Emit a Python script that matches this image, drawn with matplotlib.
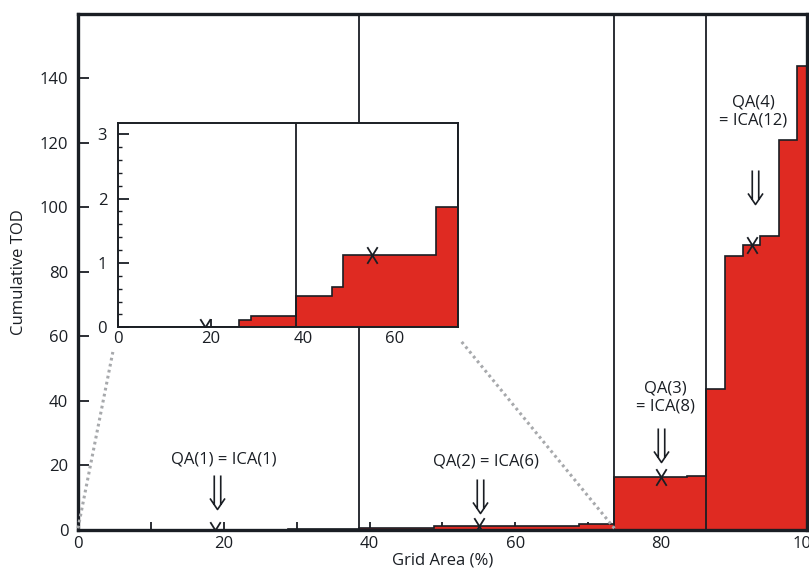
import numpy as np
import matplotlib.pyplot as plt
from matplotlib.path import Path
from matplotlib.patches import ConnectionPatch

plt.rcParams['font.family'] = ['Open Sans', 'DejaVu Sans']
plt.rcParams['font.size'] = 12

# step edges (% of grid area) and cumulative TOD on each step
area_edges = [0, 26.2, 28.8, 38.6, 46.3, 48.8, 68.8, 73.6, 83.5, 86.1,
              88.7, 91.2, 93.6, 96.2, 98.6, 100]
cum_tod = [0, 0.12, 0.17, 0.49, 0.62, 1.12, 1.87, 16.5, 16.8, 43.7,
           84.8, 88.5, 91.3, 121, 144]

# quartile-area boundaries
qa_bounds = [38.5, 73.6, 86.1]

# quartile points
qa_x = [18.8, 55.0, 80.0, 92.5]
qa_y = [0.0, 1.12, 16.5, 88.5]
qa_labels = ["QA(1) = ICA(1)", "QA(2) = ICA(6)", "QA(3)\n= ICA(8)", "QA(4)\n= ICA(12)"]

RED = '#df2a22'
INK = '#1a1e24'


def double_arrow():
    s, w, h = 0.19, 0.44, 0.65
    yj = -1 + h * s / w
    verts = [(-s, 1), (-s, yj), (s, 1), (s, yj), (-w, -1 + h), (0, -1), (w, -1 + h)]
    codes = [Path.MOVETO, Path.LINETO, Path.MOVETO, Path.LINETO,
             Path.MOVETO, Path.LINETO, Path.LINETO]
    return Path(verts, codes)


def cross():
    a = 0.62
    verts = [(-a, 1), (a, -1), (-a, -1), (a, 1)]
    codes = [Path.MOVETO, Path.LINETO, Path.MOVETO, Path.LINETO]
    return Path(verts, codes)


def draw_steps(ax):
    ax.stairs(cum_tod, area_edges, fill=True, facecolor=RED, edgecolor=INK,
              linewidth=1.2, zorder=2)
    for xb in qa_bounds:
        ax.axvline(xb, color=INK, linewidth=1.3, zorder=3)


fig = plt.figure(figsize=(8.09, 5.75), dpi=100)
ax = fig.add_axes([0.0964, 0.0783, 0.901, 0.8974])

draw_steps(ax)
ax.plot(qa_x, qa_y, linestyle='none', marker=cross(), ms=12, mfc='none',
        mec=INK, mew=1.3, zorder=5)

# annotation layout: (text x, text y, arrow x, arrow centre y)
ann_pos = [(20.0, 21.7, 19.1, 11.9), (56.0, 21.2, 55.2, 10.5),
           (80.6, 41.0, 80.0, 26.3), (92.6, 129.8, 92.9, 106.3)]
for lab, (tx, ty, axx, ay) in zip(qa_labels, ann_pos):
    ax.text(tx, ty, lab, ha='center', va='center', ma='center',
            linespacing=1.2, color=INK, zorder=6)
    ax.plot([axx], [ay], marker=double_arrow(), ms=24.5, mfc='none',
            mec=INK, mew=1.2, zorder=6)

ax.set_xlim(0, 100)
ax.set_ylim(0, 160)
ax.set_xticks(np.arange(0, 101, 20))
ax.set_xticks(np.arange(10, 100, 20), minor=True)
ax.set_yticks(np.arange(0, 141, 20))
ax.tick_params(axis='x', which='both', direction='in', length=6, width=1.3,
               color=INK, pad=4, labelcolor=INK)
ax.tick_params(axis='y', direction='in', length=8, width=1.3, color=INK,
               pad=7, labelcolor=INK)
for sp in ax.spines.values():
    sp.set_linewidth(2.4)
    sp.set_color(INK)
ax.set_xlabel('Grid Area (%)', labelpad=1, color=INK)
ax.set_ylabel('Cumulative TOD', labelpad=9, color=INK)

# zoomed inset of the low-TOD part
axin = fig.add_axes([0.1462, 0.4308, 0.4196, 0.3548])
axin.set_facecolor('white')
draw_steps(axin)
axin.plot(qa_x[:2], qa_y[:2], linestyle='none', marker=cross(), ms=12,
          mfc='none', mec=INK, mew=1.3, zorder=5)
axin.set_xlim(0, 73.6)
axin.set_ylim(0, 3.17)
axin.set_xticks([0, 20, 40, 60])
axin.set_yticks([0, 1, 2, 3])
axin.set_yticks(np.arange(0, 3.1, 0.2), minor=True)
axin.tick_params(axis='x', direction='in', length=6, width=1.3, color=INK,
                 pad=3, labelcolor=INK)
axin.tick_params(axis='y', which='major', direction='in', length=8, width=1.3,
                 color=INK, pad=8, labelcolor=INK)
axin.tick_params(axis='y', which='minor', direction='in', length=3, width=1.0,
                 color=INK)
for sp in axin.spines.values():
    sp.set_linewidth(1.4)
    sp.set_color(INK)

# dotted connector lines
for xa, xb, yb in [(0, -0.016, -0.121), (73.6, 1.007, -0.062)]:
    con = ConnectionPatch(xyA=(xa, 0.5), coordsA=ax.transData,
                          xyB=(xb, yb), coordsB=axin.transAxes,
                          linestyle=(0, (0.9, 1.1)), linewidth=2.2,
                          color='#a7a9ac', capstyle='butt')
    fig.add_artist(con)

fig.savefig('out.png', dpi=100)
